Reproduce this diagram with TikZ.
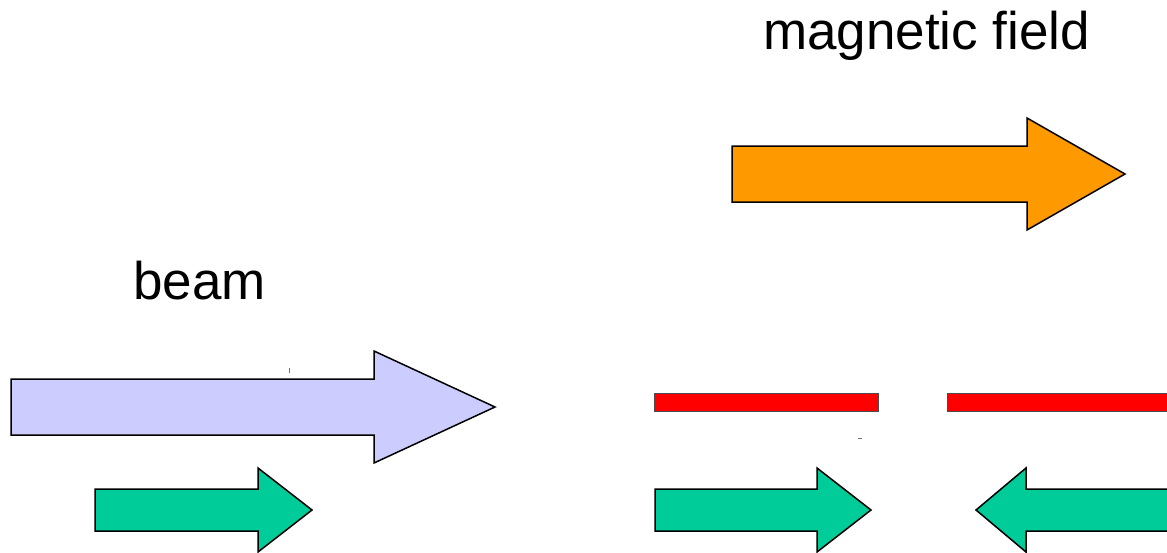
\documentclass[tikz,border=0pt]{standalone}
\usepackage{fontspec}
\setmainfont{Liberation Sans}
\definecolor{beamc}{RGB}{204,204,255}
\definecolor{fieldc}{RGB}{255,153,0}
\definecolor{spinc}{RGB}{0,204,153}
\definecolor{barc}{RGB}{255,0,0}
\begin{document}
\begin{tikzpicture}[x=1pt,y=-1pt,
  arrowshape/.style={draw=black,line width=1.5pt,line join=miter},
  barshape/.style={draw=black!70,line width=0.8pt,fill=barc},
  lbl/.style={inner sep=0pt,anchor=base west,font=\fontsize{53}{60}\selectfont},
  tick/.style={draw=black!55,line width=0.8pt}]
\useasboundingbox (0,0) rectangle (1167,552);
% labels
\node[lbl] (magfield) at (763,49) {magnetic field};
\node[lbl] (beamlbl) at (133,299) {beam};
% magnetic field arrow
\draw[arrowshape,fill=fieldc] (732,146) -- (1027,146) -- (1027,118) -- (1125,174) -- (1027,230) -- (1027,202) -- (732,202) -- cycle;
% beam arrow
\draw[arrowshape,fill=beamc] (11,379) -- (374,379) -- (374,351) -- (495,407) -- (374,463) -- (374,435) -- (11,435) -- cycle;
% small spin arrows
\draw[arrowshape,fill=spinc] (95,489) -- (258,489) -- (258,468) -- (312,510) -- (258,552) -- (258,531) -- (95,531) -- cycle;
\draw[arrowshape,fill=spinc] (655,489) -- (817,489) -- (817,468) -- (871,510) -- (817,552) -- (817,531) -- (655,531) -- cycle;
\draw[arrowshape,fill=spinc] (1175,489) -- (1026,489) -- (1026,468) -- (976,510) -- (1026,552) -- (1026,531) -- (1175,531) -- cycle;
% red bars
\draw[barshape] (654,393) rectangle (878,411);
\draw[barshape] (947,393) rectangle (1175,411);
% small marks
\draw[tick] (289,368) -- (289,373);
\draw[tick] (858,438.5) -- (862,438.5);
\end{tikzpicture}
\end{document}
